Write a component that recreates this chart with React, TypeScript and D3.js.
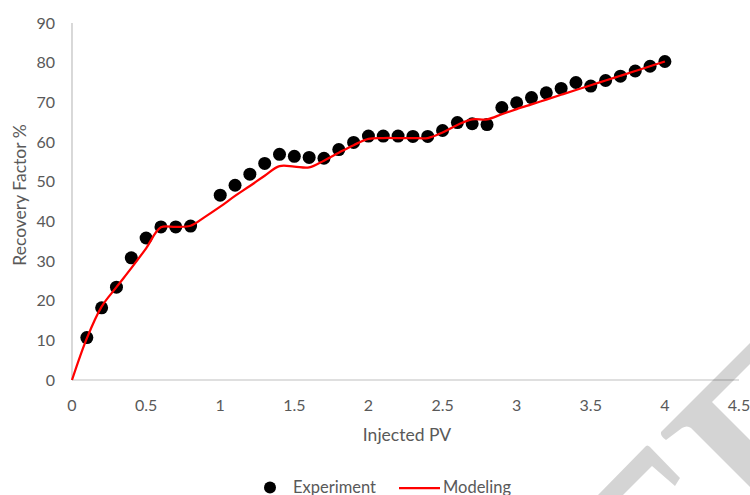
import React from "react";
import * as d3 from "d3";

const expX = [0.1, 0.2, 0.3, 0.4, 0.5, 0.6, 0.7, 0.8, 1.0, 1.1, 1.2, 1.3, 1.4, 1.5, 1.6, 1.7, 1.8, 1.9, 2.0, 2.1, 2.2, 2.3, 2.4, 2.5, 2.6, 2.7, 2.8, 2.9, 3.0, 3.1, 3.2, 3.3, 3.4, 3.5, 3.6, 3.7, 3.8, 3.9, 4.0];
const expY = [10.7, 18.2, 23.4, 30.8, 35.8, 38.6, 38.6, 38.8, 46.6, 49.1, 51.9, 54.6, 56.9, 56.4, 56.1, 55.9, 58.1, 59.9, 61.5, 61.5, 61.5, 61.4, 61.4, 62.9, 64.9, 64.6, 64.4, 68.7, 69.9, 71.2, 72.4, 73.5, 75.0, 74.1, 75.5, 76.6, 77.9, 79.1, 80.3];

const modX = [0, 0.1, 0.2, 0.3, 0.4, 0.5, 0.6, 0.7, 0.8, 0.9, 1.0, 1.1, 1.2, 1.3, 1.4, 1.5, 1.6, 1.7, 1.8, 1.9, 2.0, 2.1, 2.2, 2.3, 2.4, 2.5, 2.6, 2.7, 2.8, 2.9, 3.0, 3.1, 3.2, 3.3, 3.4, 3.5, 3.6, 3.7, 3.8, 3.9, 4.0];
const modY = [0, 10.5, 18.5, 23.4, 28.2, 33.2, 38.5, 38.6, 38.9, 41.2, 43.7, 46.4, 48.9, 51.5, 53.9, 53.8, 53.6, 55.3, 57.3, 59.2, 60.8, 61.0, 61.0, 61.0, 61.0, 62.4, 64.3, 65.7, 65.7, 67.0, 68.3, 69.5, 70.7, 71.9, 73.1, 74.3, 75.5, 76.7, 77.9, 79.1, 80.3];

const xTicks = [0, 0.5, 1, 1.5, 2, 2.5, 3, 3.5, 4, 4.5];
const yTicks = [0, 10, 20, 30, 40, 50, 60, 70, 80, 90];

const FONT = "Lato, 'Open Sans', sans-serif";
const TEXT = "#595959";

export default function App() {
  const x = d3.scaleLinear().domain([0, 4.5]).range([72, 739]);
  const y = d3.scaleLinear().domain([0, 90]).range([380, 23]);
  const line = d3
    .line<number>()
    .x((_, i) => x(modX[i]))
    .y((d) => y(d))
    .curve(d3.curveCatmullRom.alpha(0.5));

  return (
    <svg
      width={750}
      height={495}
      style={{ position: "absolute", left: 0, top: 0, background: "#fff" }}
    >
      <rect x={0} y={0} width={750} height={495} fill="#fff" />
      {/* axes */}
      <line x1={x(0)} x2={x(0)} y1={y(90)} y2={y(0)} stroke="#bfbfbf" strokeWidth={1.2} />
      <line x1={x(0)} x2={x(4.5)} y1={y(0)} y2={y(0)} stroke="#bfbfbf" strokeWidth={1.2} />
      {yTicks.map((t) => (
        <text key={"y" + t} x={55} y={y(t)} dy="0.35em" textAnchor="end" fontFamily={FONT} fontSize={16} fill={TEXT}>
          {t}
        </text>
      ))}
      {xTicks.map((t) => (
        <text key={"x" + t} x={x(t)} y={411} textAnchor="middle" fontFamily={FONT} fontSize={16} fill={TEXT}>
          {t}
        </text>
      ))}
      <text x={407} y={441} textAnchor="middle" fontFamily={FONT} fontSize={17.5} fill={TEXT}>
        Injected PV
      </text>
      <text
        transform="translate(26,195) rotate(-90)"
        textAnchor="middle"
        fontFamily={FONT}
        fontSize={17.5}
        fill={TEXT}
      >
        Recovery Factor %
      </text>
      {/* series */}
      {expY.map((v, i) => (
        <circle key={"p" + i} cx={x(expX[i])} cy={y(v)} r={6.5} fill="#000" />
      ))}
      <path d={line(modY) || ""} fill="none" stroke="#ff0000" strokeWidth={2.25} />
      {/* legend */}
      <circle cx={270} cy={487.5} r={6} fill="#000" />
      <text x={293} y={493} fontFamily={FONT} fontSize={16.5} fill={TEXT}>
        Experiment
      </text>
      <line x1={399} x2={440} y1={488} y2={488} stroke="#ff0000" strokeWidth={2.25} />
      <text x={443} y={493} fontFamily={FONT} fontSize={16.5} fill={TEXT}>
        Modeling
      </text>
      {/* watermark */}
      <g fill="#000" fillOpacity={0.17}>
        <path d="M750,343 L661,432 Q660,436 666,440 L682,428 Q687,425 691,428 L750,487 L750,440 L712,402 L750,364 Z" />
        <path d="M598,495 L645,447 Q647,444 650,447 L680,478 L675,486 L652,466 L623,495 Z" />
      </g>
    </svg>
  );
}
